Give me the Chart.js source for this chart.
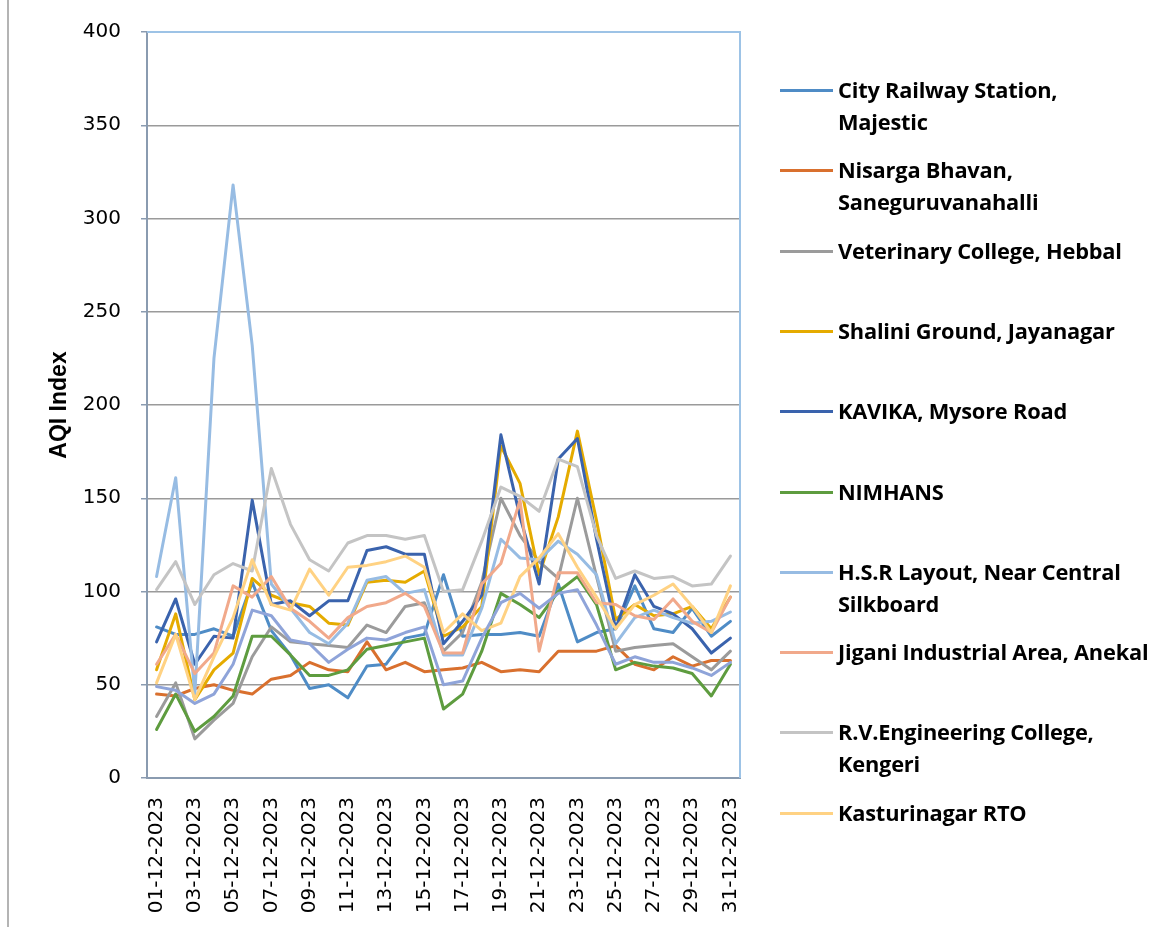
<!DOCTYPE html>
<html>
<head>
<meta charset="utf-8">
<script src="https://cdn.jsdelivr.net/npm/chart.js@4.4.1/dist/chart.umd.min.js"></script>
<style>
  html, body { margin: 0; padding: 0; background: #ffffff; }
  #wrap { position: relative; width: 1171px; height: 927px; overflow: hidden; }
  #pageline { position: absolute; left: 7px; top: 0; width: 2px; height: 927px; background: #b4b4b4; }
  #c { position: absolute; left: 0; top: 0; }
  #legend { position: absolute; left: 780px; top: 0; width: 390px; }
  .item { position: absolute; left: 0; display: flex; align-items: flex-start; }
  .swatch { width: 53px; height: 3px; margin-top: 15px; margin-right: 5px; flex: none; }
  .txt { font-family: "Open Sans", Lato, sans-serif; font-weight: bold; font-size: 21.8px; line-height: 32px; color: #000; white-space: pre; letter-spacing: -0.2px; }
</style>
</head>
<body>
<div id="wrap">
  <div id="pageline"></div>
  <canvas id="c" width="1171" height="927"></canvas>
  <div id="legend"></div>
</div>
<script>
const dates = ["01-12-2023","02-12-2023","03-12-2023","04-12-2023","05-12-2023","06-12-2023","07-12-2023","08-12-2023","09-12-2023","10-12-2023","11-12-2023","12-12-2023","13-12-2023","14-12-2023","15-12-2023","16-12-2023","17-12-2023","18-12-2023","19-12-2023","20-12-2023","21-12-2023","22-12-2023","23-12-2023","24-12-2023","25-12-2023","26-12-2023","27-12-2023","28-12-2023","29-12-2023","30-12-2023","31-12-2023"];

const cityRailway  = [81, 77, 77, 80, 76, 105, 79, 66, 48, 50, 43, 60, 61, 75, 77, 109, 76, 77, 77, 78, 76, 104, 73, 78, 80, 103, 80, 78, 91, 76, 84];
const nisarga      = [45, 44, 48, 50, 47, 45, 53, 55, 62, 58, 57, 73, 58, 62, 57, 58, 59, 62, 57, 58, 57, 68, 68, 68, 71, 61, 58, 65, 60, 63, 63];
const veterinary   = [33, 51, 21, 31, 40, 65, 81, 73, 72, 71, 70, 82, 78, 92, 94, 68, 78, 105, 150, 130, 116, 107, 150, 108, 68, 70, 71, 72, 65, 58, 68];
const shalini      = [58, 88, 42, 58, 67, 107, 98, 94, 92, 83, 82, 105, 106, 105, 111, 76, 81, 92, 178, 158, 109, 140, 186, 138, 85, 93, 87, 88, 92, 80, 97];
const kavika       = [73, 96, 61, 76, 75, 149, 93, 95, 87, 95, 95, 122, 124, 120, 120, 72, 84, 98, 184, 140, 104, 171, 182, 128, 80, 109, 92, 88, 80, 67, 75];
const nimhans      = [26, 45, 25, 33, 44, 76, 76, 66, 55, 55, 58, 69, 71, 73, 75, 37, 45, 68, 99, 93, 86, 100, 108, 93, 58, 62, 60, 59, 56, 44, 61];
const hsrLayout    = [108, 161, 45, 225, 318, 232, 104, 91, 78, 72, 83, 106, 108, 99, 101, 66, 66, 91, 128, 118, 117, 127, 120, 109, 72, 86, 90, 86, 83, 84, 89];
const jigani       = [61, 77, 56, 67, 103, 97, 108, 91, 84, 75, 86, 92, 94, 99, 92, 67, 67, 104, 115, 149, 68, 110, 110, 94, 93, 87, 85, 96, 84, 78, 97];
const rvEngg       = [101, 116, 93, 109, 115, 111, 166, 136, 117, 111, 126, 130, 130, 128, 130, 100, 101, 127, 156, 151, 143, 171, 167, 130, 107, 111, 107, 108, 103, 104, 119];
const kasturinagar = [51, 77, 42, 65, 86, 117, 93, 90, 112, 98, 113, 114, 116, 119, 113, 78, 88, 79, 83, 108, 118, 131, 113, 97, 80, 93, 98, 104, 92, 78, 103];
const series11     = [49, 47, 40, 45, 61, 90, 87, 74, 72, 62, 69, 75, 74, 78, 81, 50, 52, 75, 94, 99, 91, 99, 101, 82, 61, 65, 62, 62, 59, 55, 62];

const yTicks = [0, 50, 100, 150, 200, 250, 300, 350, 400];

const seriesNames = [
  "City Railway Station,\nMajestic",
  "Nisarga Bhavan,\nSaneguruvanahalli",
  "Veterinary College, Hebbal",
  "Shalini Ground, Jayanagar",
  "KAVIKA, Mysore Road",
  "NIMHANS",
  "H.S.R Layout, Near Central\nSilkboard",
  "Jigani Industrial Area, Anekal",
  "R.V.Engineering College,\nKengeri",
  "Kasturinagar RTO",
  "Series11"
];
const seriesData = [cityRailway, nisarga, veterinary, shalini, kavika, nimhans, hsrLayout, jigani, rvEngg, kasturinagar, series11];
const seriesColors = ["#4F8CC6", "#D9702E", "#9B9B9B", "#E5AB00", "#3A63AD", "#5E9C3F", "#97BCE3", "#F1A98B", "#C4C4C4", "#FFD283", "#8FA4D9"];
const inLegend = [true, true, true, true, true, true, true, true, true, true, false];

const datasets = seriesData.map((d, i) => ({
  label: seriesNames[i].replace("\n", " "),
  data: d,
  borderColor: seriesColors[i],
  backgroundColor: seriesColors[i],
  borderWidth: 3,
  pointRadius: 0,
  pointHoverRadius: 0,
  tension: 0,
  fill: false,
  order: 100 - i,
  borderJoinStyle: 'round',
  borderCapStyle: 'round'
}));

const frame = {
  id: 'frame',
  afterDatasetsDraw(chart) {
    const {ctx, chartArea: a} = chart;
    ctx.save();
    ctx.strokeStyle = '#9DC3E6';
    ctx.lineWidth = 2;
    ctx.beginPath();
    ctx.moveTo(a.left, a.top);
    ctx.lineTo(a.right, a.top);
    ctx.lineTo(a.right, a.bottom);
    ctx.stroke();
    ctx.restore();
  }
};

new Chart(document.getElementById('c'), {
  type: 'line',
  data: { labels: dates, datasets },
  plugins: [frame],
  options: {
    responsive: false,
    animation: false,
    events: [],
    layout: { padding: { left: 0, right: 431, top: 28, bottom: 0 } },
    plugins: { legend: { display: false }, tooltip: { enabled: false } },
    scales: {
      x: {
        offset: true,
        afterFit(s) { s.height = 149; },
        grid: { display: false, drawTicks: false },
        border: { display: true, color: '#8A9BB0', width: 2 },
        ticks: {
          autoSkip: false,
          maxRotation: 90,
          minRotation: 90,
          padding: 19,
          color: '#000',
          font: { family: 'DejaVu Sans', size: 20 },
          callback(v, i) { return i % 2 === 0 ? dates[i] : ''; }
        }
      },
      y: {
        min: 0,
        max: 400,
        afterFit(s) { s.width = 147; },
        afterBuildTicks(s) { s.ticks = yTicks.map(v => ({ value: v })); },
        grid: { color: '#9A9A9A', lineWidth: 1.5, tickLength: 6, tickColor: '#8A9BB0' },
        border: { display: true, color: '#8A9BB0', width: 2 },
        ticks: {
          padding: 20,
          color: '#000',
          font: { family: 'DejaVu Sans', size: 20 }
        },
        title: {
          display: true,
          text: 'AQI Index',
          color: '#000',
          font: { family: 'Liberation Sans', weight: 'bold', size: 23 },
          padding: { top: 46, bottom: 0 }
        }
      }
    }
  }
});

// HTML legend built from the series definitions
const legend = document.getElementById('legend');
let k = 0;
seriesNames.forEach((name, i) => {
  if (!inLegend[i]) return;
  const item = document.createElement('div');
  item.className = 'item';
  item.style.top = (74 + 80.3 * k) + 'px';
  const sw = document.createElement('div');
  sw.className = 'swatch';
  sw.style.background = seriesColors[i];
  const tx = document.createElement('div');
  tx.className = 'txt';
  tx.textContent = name;
  item.appendChild(sw);
  item.appendChild(tx);
  legend.appendChild(item);
  k++;
});
</script>
</body>
</html>
